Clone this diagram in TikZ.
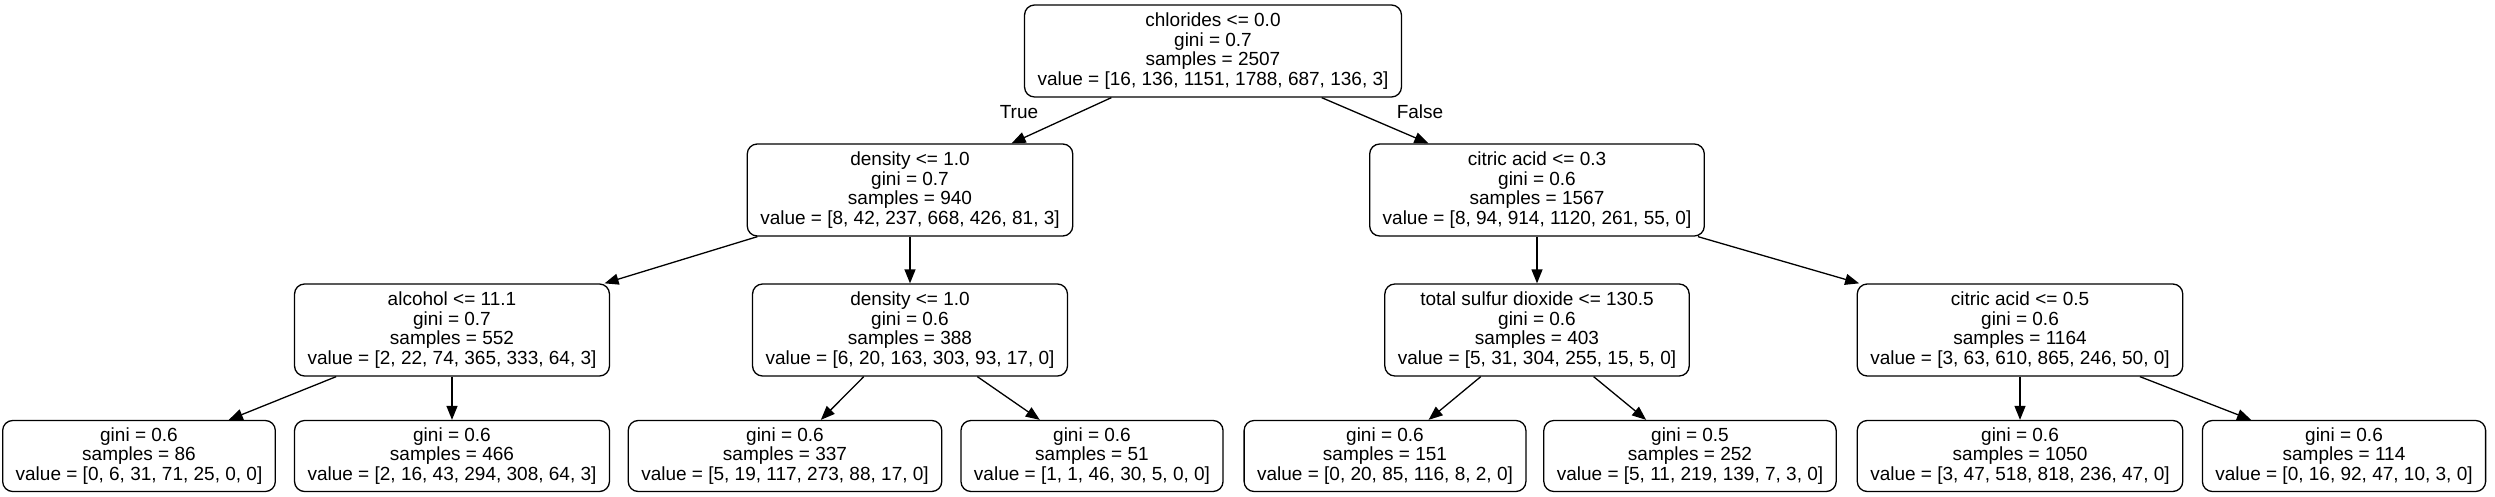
\documentclass[tikz,border=0pt]{standalone}
\usepackage{fontspec}
\setmainfont{Liberation Sans}
\usetikzlibrary{arrows.meta, positioning}

\begin{document}
\begin{tikzpicture}[
        x=1pt, y=1pt,
        split/.style={rectangle, draw=black, rounded corners=10pt, line width=1.3pt, align=center, font=\fontsize{19}{19.5}\selectfont, inner xsep=13pt, minimum height=92pt},
        leaf/.style={split, minimum height=71pt},
        branch/.style={-{Triangle[length=14pt, width=11pt]}, line width=1.3pt},
        edgelbl/.style={font=\fontsize{19}{19.5}\selectfont}
    ]
        \useasboundingbox (0,0) rectangle (2495,-497);

        % root
        \node[split] (root) at (1213,-51) {chlorides <= 0.0\\gini = 0.7\\samples = 2507\\value = [16, 136, 1151, 1788, 687, 136, 3]};

        % first split
        \node[split] (dens) at (910,-190) {density <= 1.0\\gini = 0.7\\samples = 940\\value = [8, 42, 237, 668, 426, 81, 3]};
        \node[split] (citric) at (1537,-190) {citric acid <= 0.3\\gini = 0.6\\samples = 1567\\value = [8, 94, 914, 1120, 261, 55, 0]};

        % second split
        \node[split] (alcohol) at (452,-330) {alcohol <= 11.1\\gini = 0.7\\samples = 552\\value = [2, 22, 74, 365, 333, 64, 3]};
        \node[split] (densb) at (910,-330) {density <= 1.0\\gini = 0.6\\samples = 388\\value = [6, 20, 163, 303, 93, 17, 0]};
        \node[split] (sulfur) at (1537,-330) {total sulfur dioxide <= 130.5\\gini = 0.6\\samples = 403\\value = [5, 31, 304, 255, 15, 5, 0]};
        \node[split] (citricb) at (2020,-330) {citric acid <= 0.5\\gini = 0.6\\samples = 1164\\value = [3, 63, 610, 865, 246, 50, 0]};

        % leaves
        \node[leaf] (leafa) at (139,-456) {gini = 0.6\\samples = 86\\value = [0, 6, 31, 71, 25, 0, 0]};
        \node[leaf] (leafb) at (452,-456) {gini = 0.6\\samples = 466\\value = [2, 16, 43, 294, 308, 64, 3]};
        \node[leaf] (leafc) at (785,-456) {gini = 0.6\\samples = 337\\value = [5, 19, 117, 273, 88, 17, 0]};
        \node[leaf] (leafd) at (1092,-456) {gini = 0.6\\samples = 51\\value = [1, 1, 46, 30, 5, 0, 0]};
        \node[leaf] (leafe) at (1385,-456) {gini = 0.6\\samples = 151\\value = [0, 20, 85, 116, 8, 2, 0]};
        \node[leaf] (leaff) at (1690,-456) {gini = 0.5\\samples = 252\\value = [5, 11, 219, 139, 7, 3, 0]};
        \node[leaf] (leafg) at (2020,-456) {gini = 0.6\\samples = 1050\\value = [3, 47, 518, 818, 236, 47, 0]};
        \node[leaf] (leafh) at (2344,-456) {gini = 0.6\\samples = 114\\value = [0, 16, 92, 47, 10, 3, 0]};

        % edges
        \draw[branch] (root) -- (dens);
        \draw[branch] (root) -- (citric);
        \draw[branch] (dens) -- (alcohol);
        \draw[branch] (dens) -- (densb);
        \draw[branch] (citric) -- (sulfur);
        \draw[branch] (citric) -- (citricb);
        \draw[branch] (alcohol) -- (leafa);
        \draw[branch] (alcohol) -- (leafb);
        \draw[branch] (densb) -- (leafc);
        \draw[branch] (densb) -- (leafd);
        \draw[branch] (sulfur) -- (leafe);
        \draw[branch] (sulfur) -- (leaff);
        \draw[branch] (citricb) -- (leafg);
        \draw[branch] (citricb) -- (leafh);

        \node[edgelbl] (truelbl) at (1019,-112) {True};
        \node[edgelbl] (falselbl) at (1420,-112) {False};
    \end{tikzpicture}
\end{document}
